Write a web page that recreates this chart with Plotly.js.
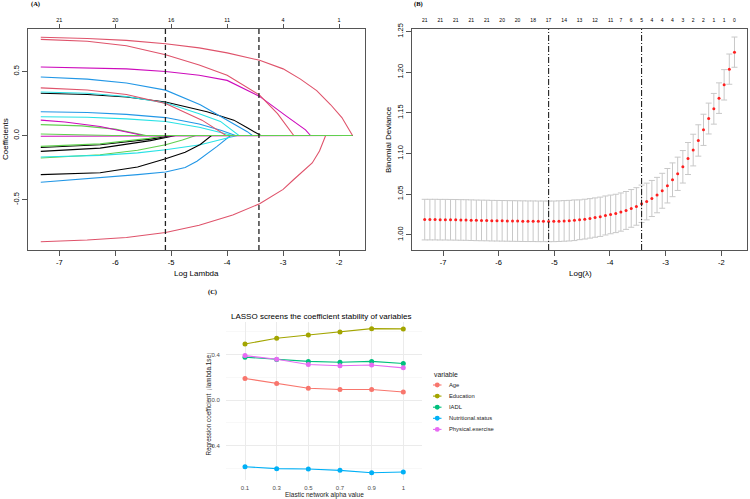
<!DOCTYPE html>
<html>
<head>
<meta charset="utf-8">
<script src="https://cdn.plot.ly/plotly-3.0.1.min.js"></script>
<style>
  html, body { margin: 0; padding: 0; background: #fff; }
  #chart { width: 750px; height: 499px; }
</style>
</head>
<body>
<div id="chart"></div>
<script>
// ---------- (A) LASSO coefficient paths (one list per variable, 21 variables) ----------
const pathLogLambda = [
  [-7.33, -6.5, -5.8, -5.1, -4.36, -3.88, -3.64, -3.40, -1.76],                 // 1
  [-7.33, -6.5, -5.8, -5.1, -4.5, -4.0, -3.42, -3.0, -2.69, -2.4, -2.15, -1.95, -1.76], // 2
  [-7.33, -6.6, -6.0, -5.45, -1.76],                                           // 3
  [-7.33, -6.5, -5.8, -5.1, -4.48, -4.0, -3.64, -3.55, -1.76],                 // 4
  [-7.33, -6.5, -5.8, -5.1, -4.5, -4.12, -3.79, -1.76],                        // 5
  [-7.33, -6.5, -5.8, -5.1, -4.5, -4.0, -3.42, -2.93, -2.6, -2.51, -1.76],     // 6
  [-7.33, -6.27, -5.37, -4.98, -1.76],                                         // 7
  [-7.33, -6.5, -5.8, -5.1, -4.5, -4.0, -3.42, -3.1, -2.81, -1.76],            // 8
  [-7.33, -6.27, -5.4, -5.08, -1.76],                                          // 9
  [-7.33, -6.5, -5.8, -5.1, -4.5, -4.1, -3.85, -1.76],                         // 10
  [-7.33, -6.5, -5.8, -5.1, -4.5, -4.15, -3.9, -1.76],                         // 11
  [-7.33, -6.9, -6.27, -5.8, -5.5, -1.76],                                     // 12
  [-7.33, -6.27, -5.37, -4.92, -1.76],                                         // 13
  [-7.33, -6.5, -5.8, -5.1, -4.45, -4.02, -1.76],                              // 14
  [-7.33, -6.27, -5.6, -5.1, -4.8, -4.56, -1.76],                              // 15
  [-7.33, -6.27, -5.6, -5.1, -4.75, -4.54, -4.18, -3.94, -1.76],               // 16
  [-7.33, -6.27, -5.6, -5.1, -4.48, -4.0, -3.82, -1.76],                       // 17
  [-7.33, -6.5, -5.8, -5.3, -1.76],                                            // 18
  [-7.33, -6.27, -5.6, -5.1, -4.75, -4.48, -4.28, -1.76],                      // 19
  [-7.33, -6.5, -5.8, -5.1, -4.5, -3.9, -3.42, -3.0, -2.81, -2.48, -2.35, -2.24, -1.76], // 20
  [-7.33, -6.6, -6.05, -1.76]                                                  // 21
];
const pathCoef = [
  [0.33, 0.32, 0.30, 0.262, 0.186, 0.12, 0.06, 0, 0],
  [0.767, 0.757, 0.742, 0.716, 0.684, 0.645, 0.587, 0.52, 0.44, 0.35, 0.24, 0.14, 0],
  [0.085, 0.075, 0.05, 0, 0],
  [0.457, 0.44, 0.41, 0.354, 0.24, 0.12, 0.03, 0, 0],
  [0.34, 0.33, 0.305, 0.255, 0.17, 0.11, 0, 0],
  [0.535, 0.53, 0.52, 0.50, 0.47, 0.43, 0.305, 0.147, 0.044, 0, 0],
  [-0.093, -0.072, -0.028, 0, 0],
  [0.75, 0.735, 0.70, 0.63, 0.55, 0.47, 0.315, 0.17, 0, 0],
  [-0.085, -0.065, -0.022, 0, 0],
  [0.186, 0.18, 0.165, 0.14, 0.09, 0.04, 0, 0],
  [0.147, 0.142, 0.13, 0.11, 0.065, 0.025, 0, 0],
  [0.12, 0.105, 0.07, 0.03, 0, 0],
  [-0.124, -0.098, -0.04, 0, 0],
  [0.372, 0.355, 0.32, 0.25, 0.12, 0, 0],
  [-0.175, -0.15, -0.115, -0.072, -0.035, 0, 0],
  [-0.364, -0.33, -0.305, -0.284, -0.25, -0.2, -0.085, 0, 0],
  [-0.168, -0.155, -0.135, -0.111, -0.072, -0.02, 0, 0],
  [-0.006, -0.005, -0.003, 0, 0],
  [-0.305, -0.29, -0.245, -0.181, -0.13, -0.07, 0, 0],
  [-0.829, -0.815, -0.795, -0.757, -0.70, -0.62, -0.532, -0.42, -0.343, -0.214, -0.12, 0, 0],
  [0.012, 0.008, 0, 0]
];
const coefTicks = [-7, -6, -5, -4, -3, -2];
const coefTopLabels = ['21', '20', '16', '11', '4', '1'];
const logLambdaMin = -5.103;
const logLambda1se = -3.432;

// ---------- (B) 10-fold cross-validation ----------
const cvLogLambda = [
  -7.330, -7.237, -7.144, -7.052, -6.959, -6.866, -6.773, -6.680, -6.588, -6.495,
  -6.402, -6.309, -6.216, -6.124, -6.031, -5.938, -5.845, -5.752, -5.660, -5.567,
  -5.474, -5.381, -5.288, -5.196, -5.103, -5.010, -4.917, -4.824, -4.732, -4.639,
  -4.546, -4.453, -4.360, -4.268, -4.175, -4.082, -3.989, -3.896, -3.804, -3.711,
  -3.618, -3.525, -3.432, -3.340, -3.247, -3.154, -3.061, -2.968, -2.876, -2.783,
  -2.690, -2.597, -2.504, -2.412, -2.319, -2.226, -2.133, -2.040, -1.948, -1.855,
  -1.762
];
const cvDeviance = [
  1.0186, 1.0186, 1.0186, 1.0185, 1.0185, 1.0184, 1.0183, 1.0182, 1.0181, 1.0179,
  1.0177, 1.0176, 1.0175, 1.0173, 1.0172, 1.0171, 1.0170, 1.0169, 1.0168, 1.0167,
  1.0166, 1.0166, 1.0165, 1.0165, 1.0164, 1.0165, 1.0167, 1.0170, 1.0173, 1.0178,
  1.0184, 1.0192, 1.0201, 1.0211, 1.0221, 1.0237, 1.0250, 1.0262, 1.0279, 1.0299,
  1.0324, 1.0348, 1.0381, 1.0409, 1.0446, 1.0488, 1.0541, 1.0603, 1.0676, 1.0750,
  1.0836, 1.0938, 1.1042, 1.1160, 1.1291, 1.1430, 1.1550, 1.1681, 1.1845, 1.2038,
  1.2247
];
const cvSE = [
  0.025, 0.025, 0.025, 0.025, 0.025, 0.025, 0.025, 0.025, 0.025, 0.025,
  0.025, 0.025, 0.025, 0.025, 0.025, 0.025, 0.025, 0.025, 0.025, 0.025,
  0.025, 0.025, 0.025, 0.025, 0.025, 0.025, 0.025, 0.025, 0.025, 0.025,
  0.0245, 0.0245, 0.0243, 0.0242, 0.0242, 0.0240, 0.0238, 0.0236, 0.0235, 0.0233,
  0.0232, 0.0231, 0.0230, 0.0226, 0.0222, 0.0218, 0.0215, 0.0212, 0.0208, 0.0205,
  0.0200, 0.0197, 0.0195, 0.0193, 0.0192, 0.0190, 0.0189, 0.0188, 0.0187, 0.0186,
  0.0186
];
const cvTopIndex = [0, 3, 6, 9, 12, 15, 18, 21, 24, 27, 30, 33, 36, 38, 40, 42, 44, 46, 48, 50, 52, 54, 56, 58, 60];
const cvTopLabels = ['21', '21', '21', '21', '21', '20', '20', '18', '17', '14', '13', '12', '11',
                     '7', '6', '5', '4', '4', '4', '3', '2', '2', '1', '1', '0'];
const devTicks = [1.00, 1.05, 1.10, 1.15, 1.20, 1.25];

// ---------- (C) coefficient stability across elastic-net alpha ----------
const alphaLevels = ['0.1', '0.3', '0.5', '0.7', '0.9', '1'];
const varNames = ['Age', 'Education', 'IADL', 'Nutritional.status', 'Physical.exercise'];
const coefAge = [0.190, 0.146, 0.104, 0.092, 0.092, 0.071];
const coefEducation = [0.493, 0.544, 0.572, 0.599, 0.628, 0.626];
const coefIADL = [0.377, 0.356, 0.340, 0.332, 0.340, 0.322];
const coefNutrition = [-0.587, -0.604, -0.607, -0.619, -0.640, -0.634];
const coefExercise = [0.391, 0.359, 0.313, 0.302, 0.308, 0.283];
const stabTicks = [-0.4, 0, 0.4];
const stabMinor = [-0.6, -0.2, 0.2, 0.6];

// ---------- styling ----------
const W = 750, H = 499;
const px = x => x / W;
const py = y => 1 - y / H;
const SANS = 'Liberation Sans, Arial, sans-serif';
const SERIF = 'Liberation Serif, Times New Roman, serif';
const rPalette = ['#000000', '#DF536B', '#61D04F', '#2297E6', '#28E2E5', '#CD0BBC'];
const ggPalette = ['#F8766D', '#A3A500', '#00BF7D', '#00B0F6', '#E76BF3'];
const boxColor = '#555555';
const fmt2 = v => v.toFixed(2);
const fmt1 = v => v.toFixed(1);

const traces = [];

// (A) paths
pathLogLambda.forEach((xs, k) => {
  traces.push({
    type: 'scatter', mode: 'lines', x: xs, y: pathCoef[k],
    xaxis: 'x', yaxis: 'y',
    line: { color: rPalette[k % 6], width: 1.1 },
    hoverinfo: 'skip', showlegend: false
  });
});

// invisible carriers so the two top (non-zero count) axes get drawn
traces.push({
  type: 'scatter', mode: 'markers', x: coefTicks, y: coefTicks.map(() => 0),
  xaxis: 'x2', yaxis: 'y', marker: { opacity: 0 }, hoverinfo: 'skip', showlegend: false
});
traces.push({
  type: 'scatter', mode: 'markers', x: cvTopIndex.map(i => cvLogLambda[i]),
  y: cvTopIndex.map(i => cvDeviance[i]),
  xaxis: 'x4', yaxis: 'y3', marker: { opacity: 0 }, hoverinfo: 'skip', showlegend: false
});

// (B) deviance with standard-error bars
traces.push({
  type: 'scatter', mode: 'markers', x: cvLogLambda, y: cvDeviance,
  xaxis: 'x3', yaxis: 'y3',
  marker: { color: '#FF2020', size: 3 },
  error_y: { type: 'data', array: cvSE, visible: true, color: '#C8C8C8', thickness: 1, width: 3 },
  hoverinfo: 'skip', showlegend: false
});

// (C) one line per retained variable
const stabSeries = [coefAge, coefEducation, coefIADL, coefNutrition, coefExercise];
stabSeries.forEach((vals, k) => {
  traces.push({
    type: 'scatter', mode: 'lines+markers', x: alphaLevels, y: vals,
    xaxis: 'x5', yaxis: 'y5', name: varNames[k],
    line: { color: ggPalette[k], width: 1.1 },
    marker: { color: ggPalette[k], size: 5 },
    hoverinfo: 'skip', showlegend: false
  });
});

const xRangeAB = [-7.553, -1.537];
const domA = [px(28.3), px(365)];
const domB = [px(412.3), px(747)];
const domABy = [py(250), py(29)];

const baseBox = {
  showline: true, mirror: true, linecolor: boxColor, linewidth: 1,
  ticks: 'outside', ticklen: 5, tickcolor: boxColor, tickwidth: 1,
  showgrid: false, zeroline: false, fixedrange: true,
  tickfont: { family: SANS, size: 7.5, color: '#000' }
};

const layout = {
  width: W, height: H,
  margin: { l: 0, r: 0, t: 0, b: 0 },
  paper_bgcolor: '#ffffff', plot_bgcolor: 'rgba(0,0,0,0)',
  showlegend: false,
  font: { family: SANS, color: '#000' },

  xaxis: Object.assign({}, baseBox, {
    domain: domA, anchor: 'y', range: xRangeAB,
    tickmode: 'array', tickvals: coefTicks, ticktext: coefTicks.map(String)
  }),
  xaxis2: {
    overlaying: 'x', anchor: 'y', side: 'top', range: xRangeAB,
    tickmode: 'array', tickvals: coefTicks, ticktext: coefTopLabels,
    ticks: 'outside', ticklen: 4, tickcolor: boxColor, showline: false,
    showgrid: false, zeroline: false, fixedrange: true,
    tickfont: { family: SANS, size: 5.5, color: '#000' }
  },
  yaxis: Object.assign({}, baseBox, {
    domain: domABy, anchor: 'x', range: [-0.893, 0.831],
    tickmode: 'array', tickvals: [-0.5, 0, 0.5], ticktext: [-0.5, 0, 0.5].map(fmt1),
    tickangle: -90
  }),

  xaxis3: Object.assign({}, baseBox, {
    domain: domB, anchor: 'y3', range: xRangeAB,
    tickmode: 'array', tickvals: coefTicks, ticktext: coefTicks.map(String)
  }),
  xaxis4: {
    overlaying: 'x3', anchor: 'y3', side: 'top', range: xRangeAB,
    tickmode: 'array',
    tickvals: cvTopIndex.map(i => cvLogLambda[i]), ticktext: cvTopLabels,
    ticks: 'outside', ticklen: 4, tickcolor: 'rgba(0,0,0,0)',
    showline: false, showgrid: false, zeroline: false, fixedrange: true,
    tickfont: { family: SANS, size: 5, color: '#000' }
  },
  yaxis3: Object.assign({}, baseBox, {
    domain: domABy, anchor: 'x3', range: [0.9812, 1.2532],
    tickmode: 'array', tickvals: devTicks, ticktext: devTicks.map(fmt2),
    tickangle: -90
  }),

  xaxis5: {
    domain: [px(226), px(422.3)], anchor: 'y5', type: 'category',
    categoryorder: 'array', categoryarray: alphaLevels, range: [-0.6, 5.6],
    showgrid: true, gridcolor: '#EBEBEB', gridwidth: 1, zeroline: false, showline: false,
    ticks: 'outside', ticklen: 2, tickcolor: 'rgba(0,0,0,0)', fixedrange: true,
    tickfont: { family: SANS, size: 6, color: '#4D4D4D' }
  },
  yaxis5: {
    domain: [py(479.9), py(321.5)], anchor: 'x5', range: [-0.703, 0.691],
    tickmode: 'array', tickvals: stabTicks, ticktext: stabTicks.map(fmt1),
    showgrid: true, gridcolor: '#EBEBEB', gridwidth: 1, zeroline: false, showline: false,
    minor: { tickmode: 'array', tickvals: stabMinor, showgrid: true, gridcolor: '#F3F3F3', gridwidth: 0.6, ticks: '' },
    ticks: 'outside', ticklen: 4, tickcolor: 'rgba(0,0,0,0)', fixedrange: true,
    tickfont: { family: SANS, size: 6, color: '#4D4D4D' }
  },

  shapes: [
    { type: 'line', xref: 'x', yref: 'y domain', x0: logLambdaMin, x1: logLambdaMin, y0: 0, y1: 1,
      line: { color: '#222', width: 1.3, dash: '5px,3px' } },
    { type: 'line', xref: 'x', yref: 'y domain', x0: logLambda1se, x1: logLambda1se, y0: 0, y1: 1,
      line: { color: '#222', width: 1.3, dash: '5px,3px' } },
    { type: 'line', xref: 'x3', yref: 'y3 domain', x0: logLambdaMin, x1: logLambdaMin, y0: 0, y1: 1,
      line: { color: '#222', width: 1.1, dash: '6px,2px,1px,2px' } },
    { type: 'line', xref: 'x3', yref: 'y3 domain', x0: logLambda1se, x1: logLambda1se, y0: 0, y1: 1,
      line: { color: '#222', width: 1.1, dash: '6px,2px,1px,2px' } }
  ],

  annotations: [
    { text: '(A)', x: px(35), y: py(4.5), font: { family: SERIF, size: 6.5, color: '#000', weight: 'bold' } },
    { text: '(B)', x: px(418), y: py(4.5), font: { family: SERIF, size: 6.5, color: '#000', weight: 'bold' } },
    { text: '(C)', x: px(213), y: py(292), font: { family: SERIF, size: 6.5, color: '#000', weight: 'bold' } },
    { text: 'Coefficients', x: px(5.5), y: py(139.5), textangle: -90, font: { size: 8 } },
    { text: 'Log Lambda', x: px(196.5), y: py(273.5), font: { size: 8 } },
    { text: 'Binomial Deviance', x: px(388.5), y: py(139.5), textangle: -90, font: { size: 8 } },
    { text: 'Log(λ)', x: px(580), y: py(273.5), font: { size: 8 } },
    { text: 'LASSO screens the coefficient stability of variables', x: px(229), y: py(316.7),
      xanchor: 'left', font: { size: 8 } },
    { text: 'Regression coefficient（lambda.1se）', x: px(208.5), y: py(403), textangle: -90,
      font: { size: 6.3, color: '#222' } },
    { text: 'Elastic network alpha value', x: px(324.5), y: py(495), font: { size: 6.5, color: '#222' } },
    { text: 'variable', x: px(431.5), y: py(374), xanchor: 'left', font: { size: 6.8, color: '#222' } }
  ].map(a => Object.assign({ xref: 'paper', yref: 'paper', showarrow: false, xanchor: 'center', yanchor: 'middle' }, a))
};

// (C) legend keys: a short coloured segment with a point, then the variable name
const legendRowY = [385, 396.1, 407.2, 418.3, 429.4];
varNames.forEach((name, k) => {
  const yy = legendRowY[k];
  layout.shapes.push({ type: 'line', xref: 'paper', yref: 'paper',
    x0: px(433), x1: px(441.5), y0: py(yy), y1: py(yy), line: { color: ggPalette[k], width: 1.1 } });
  layout.shapes.push({ type: 'circle', xref: 'paper', yref: 'paper',
    x0: px(434.8), x1: px(439.7), y0: py(yy + 2.45), y1: py(yy - 2.45),
    fillcolor: ggPalette[k], line: { width: 0 } });
  layout.annotations.push({ text: name, xref: 'paper', yref: 'paper', x: px(446.5), y: py(yy),
    xanchor: 'left', yanchor: 'middle', showarrow: false, font: { size: 5.8, color: '#222' } });
});

Plotly.newPlot('chart', traces, layout, { staticPlot: true, displayModeBar: false });
</script>
</body>
</html>
